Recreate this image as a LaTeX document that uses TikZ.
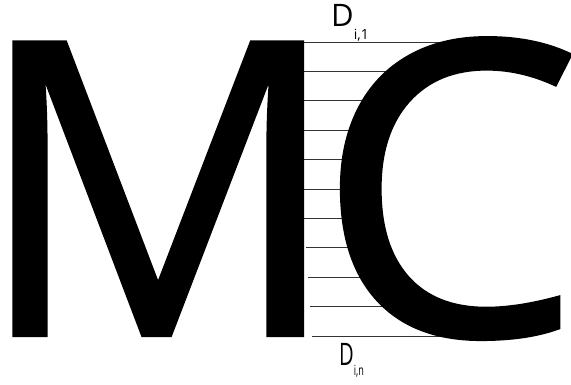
\documentclass[tikz,border=0pt]{standalone}
\usepackage{fontspec}
\setmainfont{Open Sans}
\newfontfamily\bigfont[FakeBold=1]{Open Sans}
\usetikzlibrary{positioning}
\newcommand\lowsub[2]{{\fontsize{14}{14}\selectfont\raisebox{-#1}{#2}}}

\begin{document}
\begin{tikzpicture}[
        x=1pt, y=-1pt,
        letter/.style={inner sep=0pt, font=\bigfont\fontsize{410}{410}\selectfont},
        lbl/.style={inner sep=0pt, font=\fontsize{31}{31}\selectfont},
        row/.style={draw=black!80, line width=0.8pt}
    ]
    \useasboundingbox (0,0) rectangle (571,385);
    % Rows between the letters
    \foreach \yy/\xe in {42/507, 71.4/440, 100.8/407, 130.2/389, 159.6/379, 189/376,
                         218.4/379, 247.8/389, 277.2/407, 306.6/440, 336/507}{
        \pgfmathsetmacro\xs{293+(\yy-42)*19/294}
        \draw [row] (\xs,\yy) -- (\xe,\yy);
    }
    
    % Letters
    \node (em) [letter, anchor=base west, xscale=0.993] at (0,335) {\kern-26pt M};
    \node (ce) [letter, anchor=base west, xscale=1.03] at (316,335) {C};
    
    % Labels
    \node (dtop) [lbl, anchor=base west] at (331,27) {D\lowsub{13pt}{i,1}};
    \node (dbot) [lbl, anchor=base west, xscale=0.65] at (339,365) {D\lowsub{10pt}{i,n}};
\end{tikzpicture}
\end{document}
